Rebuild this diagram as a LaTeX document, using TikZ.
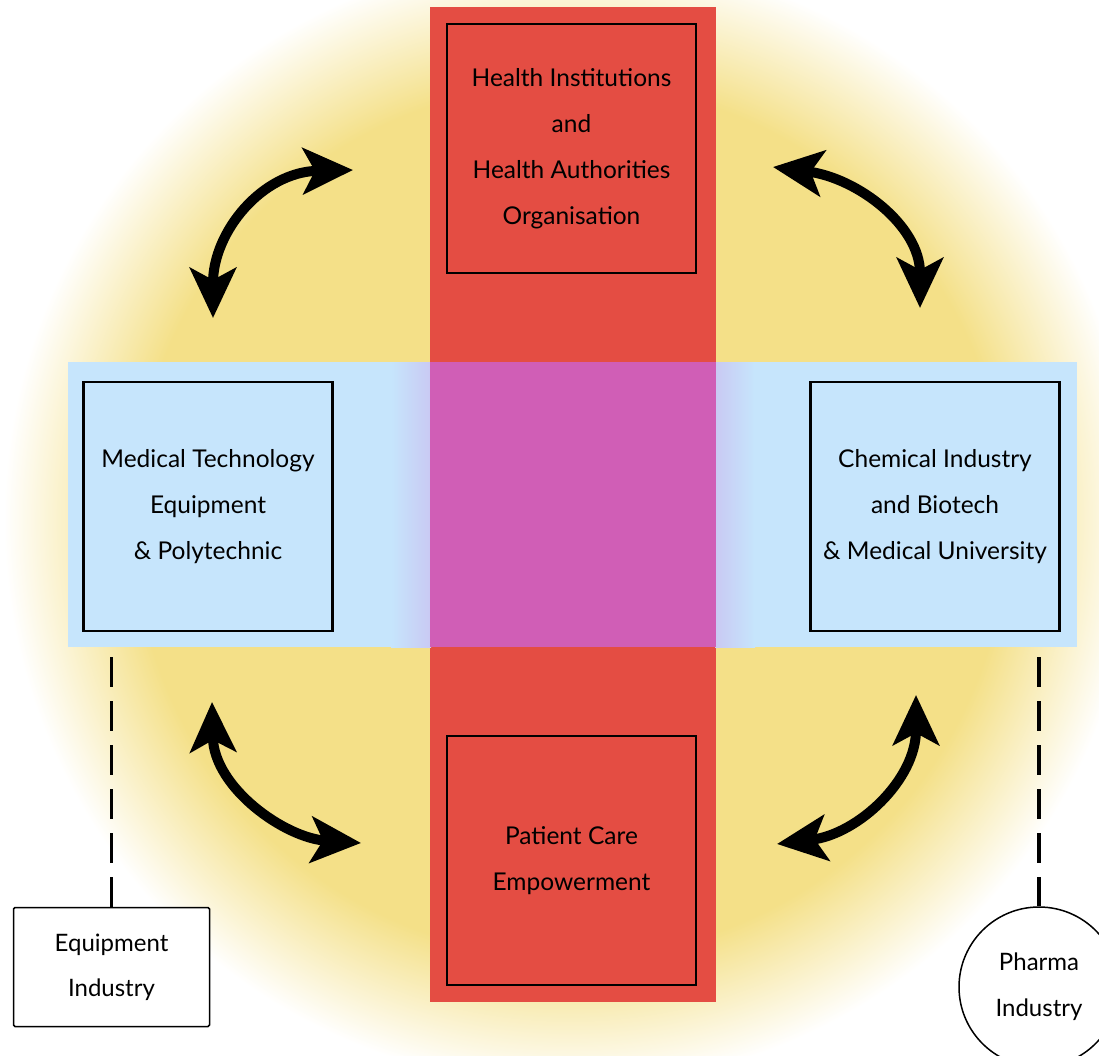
\documentclass[tikz,border=0pt]{standalone}
\usepackage{fontspec}
\setmainfont{Lato}
\usetikzlibrary{arrows.meta}
\definecolor{glowyellow}{HTML}{F4E088}
\definecolor{bandred}{HTML}{E44D43}
\definecolor{bandblue}{HTML}{C6E5FC}
\definecolor{lavender}{HTML}{C9C9F3}
\definecolor{centerpink}{HTML}{D05EB6}
\pgfdeclareradialshading{glow}{\pgfpoint{0bp}{0bp}}{color(0bp)=(glowyellow); color(18.5bp)=(glowyellow); color(24bp)=(white); color(50bp)=(white)}
\begin{document}
\begin{tikzpicture}[x=1pt,y=-1pt,
  bigbox/.style={draw=black, line width=2.5pt, minimum width=249pt, minimum height=249pt, align=center, font=\fontsize{24.5}{46}\selectfont, inner sep=0pt},
  smallbox/.style={draw=black, line width=1.5pt, fill=white, minimum width=196pt, minimum height=119pt, align=center, font=\fontsize{24}{45}\selectfont, rounded corners=1.5pt, inner sep=0pt},
  roundbox/.style={draw=black, line width=1.5pt, fill=white, circle, minimum size=160pt, align=center, font=\fontsize{24}{46}\selectfont, inner sep=0pt},
  dblarrow/.style={line width=10pt, {Stealth[length=50pt,width=46pt,inset=12pt]}-{Stealth[length=50pt,width=46pt,inset=12pt]}},
  link/.style={line width=3.5pt, dash pattern=on 30pt off 14pt}
]
\useasboundingbox (0,0) rectangle (1099,1056);
\fill[white] (0,0) rectangle (1099,1056);
% yellow glow
\shade[shading=glow] (570,520) circle (590);
% red vertical band
\fill[bandred] (430,7) rectangle (716,1002);
% blue horizontal band
\fill[bandblue] (68,362) rectangle (392,647);
\shade[left color=bandblue, right color=lavender] (391,362) rectangle (431,647);
\shade[left color=lavender, right color=bandblue] (715,362) rectangle (755,647);
\fill[bandblue] (754,362) rectangle (1077,647);
\fill[centerpink] (430,362) rectangle (716,647);
% boxes
\node[bigbox] (health) at (571.5,148.5) {Health Institutions\\and\\Health Authorities\\Organisation};
\node[bigbox] (medtech) at (208,506.5) {Medical Technology\\Equipment\\\& Polytechnic};
\node[bigbox] (chem) at (935,506.5) {Chemical Industry\\and Biotech\\\& Medical University};
\node[bigbox] (patient) at (571.5,860.5) {Patient Care\\Empowerment};
\node[smallbox] (equip) at (111.5,967) {Equipment\\Industry};
\node[roundbox] (pharma) at (1039,987) {Pharma\\Industry};
% dashed links
\coordinate (eqtop) at (111.5,657);
\coordinate (phtop) at (1039,657);
\draw[link] (eqtop) -- (equip.north);
\draw[link] (phtop) -- (pharma.north);
% curved double arrows
\coordinate (tlA) at (213,318);
\coordinate (tlB) at (353,170);
\draw[dblarrow] (tlA) .. controls (213,232) and (262,172) .. (tlB);
\coordinate (trA) at (773,167);
\coordinate (trB) at (920,308);
\draw[dblarrow] (trA) .. controls (858,178) and (920,226) .. (trB);
\coordinate (blA) at (212,702);
\coordinate (blB) at (361,843);
\draw[dblarrow] (blA) .. controls (214,788) and (285,838) .. (blB);
\coordinate (brA) at (916,695);
\coordinate (brB) at (777,844);
\draw[dblarrow] (brA) .. controls (916,780) and (858,834) .. (brB);
\end{tikzpicture}
\end{document}
